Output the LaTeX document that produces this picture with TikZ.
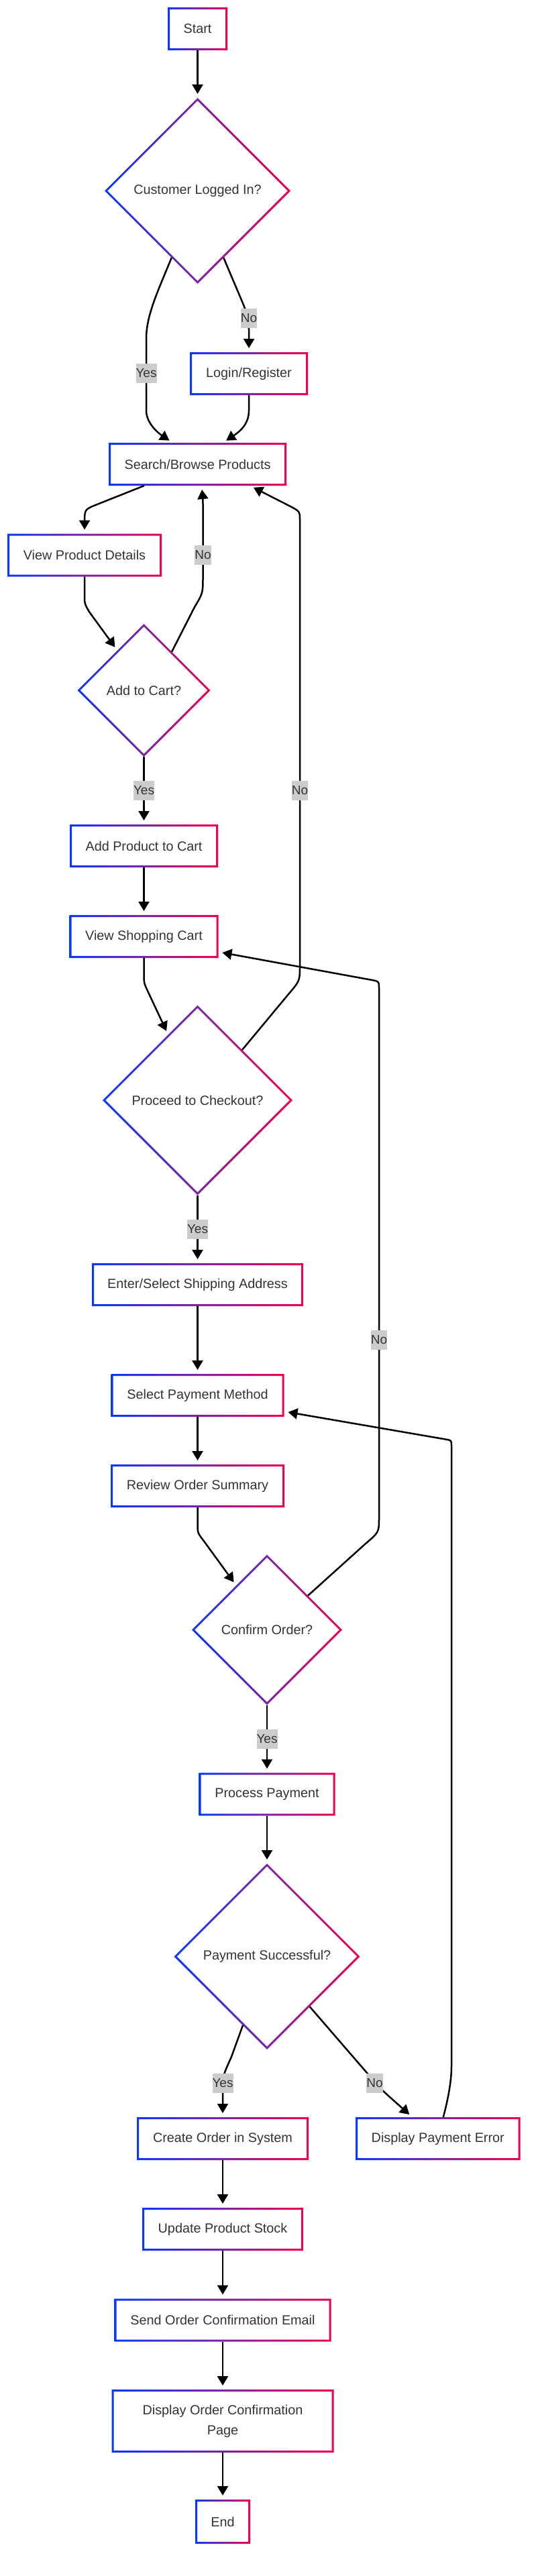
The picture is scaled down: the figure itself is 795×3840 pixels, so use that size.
\documentclass[tikz,border=0pt]{standalone}
\usepackage{fontspec}
\setmainfont{Liberation Sans}
\usetikzlibrary{arrows.meta,calc,shapes.geometric}
\definecolor{gblue}{RGB}{10,55,255}
\definecolor{gred}{RGB}{240,0,80}
\definecolor{gpurple}{RGB}{125,35,165}
\definecolor{txt}{RGB}{51,51,51}
\definecolor{lblbg}{RGB}{204,204,204}
\newcommand\gbox[1]{\shade[even odd rule, left color=gblue, right color=gred, middle color=gpurple]
  (#1.south west) rectangle (#1.north east)
  ($(#1.south west)+(3,-3)$) rectangle ($(#1.north east)+(-3,3)$);}
\newcommand\gdia[1]{\shade[even odd rule, left color=gblue, right color=gred, middle color=gpurple]
  (#1.north) -- (#1.east) -- (#1.south) -- (#1.west) -- cycle
  ($(#1.north)+(0,4.2)$) -- ($(#1.east)+(-4.2,0)$) -- ($(#1.south)+(0,-4.2)$) -- ($(#1.west)+(4.2,0)$) -- cycle;}
\tikzset{
  box/.style={rectangle, inner sep=0pt, outer sep=0pt, minimum height=64pt, text=txt, font=\fontsize{19.8}{30}\selectfont},
  dec/.style={diamond, aspect=1, inner sep=0pt, outer sep=0pt, text=txt, font=\fontsize{19.8}{24}\selectfont},
  lbl/.style={fill=lblbg, inner xsep=0pt, inner ysep=0pt, minimum height=29pt, text=txt, font=\fontsize{19}{23}\selectfont},
  arr/.style={draw=black, line width=2.5pt, line join=round, -{Triangle[length=14pt,width=16pt]}, shorten >=6pt}
}
\begin{document}
\begin{tikzpicture}[x=1pt,y=-1pt]
\useasboundingbox (0,0) rectangle (795,3840);
\fill[white] (0,0) rectangle (795,3840);

% nodes
\node[box, minimum width=89pt] (start) at (294.5,43) {Start};
\node[dec, minimum width=277pt, minimum height=277pt] (logged) at (294.5,284.5) {Customer Logged In?};
\node[box, minimum width=176pt] (login) at (371,557) {Login/Register};
\node[box, minimum width=265pt] (search) at (294.5,692) {Search/Browse Products};
\node[box, minimum width=230pt] (details) at (126,827.5) {View Product Details};
\node[dec, minimum width=198pt, minimum height=198pt] (addcart) at (214.5,1029) {Add to Cart?};
\node[box, minimum width=221pt] (addprod) at (214.5,1261) {Add Product to Cart};
\node[box, minimum width=222pt] (viewcart) at (214.5,1396) {View Shopping Cart};
\node[dec, minimum width=283pt, minimum height=283pt] (proceed) at (294.5,1640) {Proceed to Checkout?};
\node[box, minimum width=315pt] (shipping) at (294.5,1915) {Enter/Select Shipping Address};
\node[box, minimum width=258pt] (paymethod) at (294.5,2080) {Select Payment Method};
\node[box, minimum width=259pt] (review) at (294.5,2215) {Review Order Summary};
\node[dec, minimum width=224pt, minimum height=224pt] (confirm) at (398,2429.5) {Confirm Order?};
\node[box, minimum width=203pt] (process) at (398,2674.5) {Process Payment};
\node[dec, minimum width=277pt, minimum height=277pt] (paysucc) at (398,2916.5) {Payment Successful?};
\node[box, minimum width=256pt] (create) at (332,3188) {Create Order in System};
\node[box, minimum width=245.5pt] (payerr) at (652.75,3188) {Display Payment Error};
\node[box, minimum width=240pt] (stock) at (332,3323) {Update Product Stock};
\node[box, minimum width=323pt] (email) at (332,3458.5) {Send Order Confirmation Email};
\node[box, minimum width=331pt, minimum height=94pt, align=center] (page) at (332,3609) {Display Order Confirmation\\Page};
\node[box, minimum width=82pt, minimum height=66pt] (end) at (332,3759) {End};

% borders
\gbox{start}\gdia{logged}\gbox{login}\gbox{search}\gbox{details}\gdia{addcart}
\gbox{addprod}\gbox{viewcart}\gdia{proceed}\gbox{shipping}\gbox{paymethod}\gbox{review}
\gdia{confirm}\gbox{process}\gdia{paysucc}\gbox{create}\gbox{payerr}\gbox{stock}
\gbox{email}\gbox{page}\gbox{end}

% connectors
\draw[arr] (start.south) -- (logged.north);
\draw[arr] ($(logged.south)!0.28!(logged.west)$) .. controls (235,435) and (218,470) .. (218,505) -- (218,612) .. controls (218,632) and (238,647) .. ($(search.north)+(-37,0)$);
\draw[arr] ($(logged.south)!0.28!(logged.east)$) -- (362,452) .. controls (371,475) .. (371,495) -- (login.north);
\draw[arr] (login.south) -- (371,612) .. controls (371,632) and (358,643) .. ($(search.north)+(37.5,0)$);
\draw[arr] ($(search.south)+(-79.5,0)$) -- (137,755) .. controls (127,760) .. (126,772) -- (details.north);
\draw[arr] (details.south) -- (126,887) .. controls (126,900) .. (133,912) -- ($(addcart.west)!0.6!(addcart.north)$);
\draw[arr] ($(addcart.north)!0.42!(addcart.east)$) -- (290,905) .. controls (302.5,884) .. (302.5,860) -- (302.5,760) .. controls (302.5,745) .. ($(search.south)+(6,0)$);
\draw[arr] (addcart.south) -- (addprod.north);
\draw[arr] (addprod.south) -- (viewcart.north);
\draw[arr] (viewcart.south) -- (214.5,1452) .. controls (214.5,1465) .. (220,1477) -- ($(proceed.west)!0.69!(proceed.north)$);
\draw[arr] ($(proceed.north)!0.47!(proceed.east)$) -- (430,1482) .. controls (447,1462) .. (447,1440) -- (447,775) .. controls (447,763) .. (437,757) -- ($(search.south)+(78,0)$);
\draw[arr] (proceed.south) -- (shipping.north);
\draw[arr] (shipping.south) -- (paymethod.north);
\draw[arr] (paymethod.south) -- (review.north);
\draw[arr] (review.south) -- (294.5,2270) .. controls (294.5,2285) .. (303,2296) -- ($(confirm.west)!0.59!(confirm.north)$);
\draw[arr] ($(confirm.north)!0.545!(confirm.east)$) -- (545,2301) .. controls (565,2284) .. (565,2262) -- (565,1473) .. controls (565,1463) .. (555,1461) -- ($(viewcart.south east)+(0,-9)$);
\draw[arr] (confirm.south) -- (process.north);
\draw[arr] (process.south) -- (paysucc.north);
\draw[arr] ($(paysucc.south)!0.26!(paysucc.west)$) -- (345,3066) .. controls (332,3095) .. (332,3112) -- (create.north);
\draw[arr] ($(paysucc.south)!0.46!(paysucc.east)$) -- (547,3090) .. controls (563,3110) .. ($(payerr.north)+(-38,0)$);
\draw[arr] ($(payerr.north)+(8,0)$) .. controls (669,3125) and (673,3100) .. (673,3080) -- (673,2156) .. controls (673,2147) .. (664,2145.5) -- ($(paymethod.south east)+(0,-8)$);
\draw[arr] (create.south) -- (stock.north);
\draw[arr] (stock.south) -- (email.north);
\draw[arr] (email.south) -- (page.north);
\draw[arr] (page.south) -- (end.north);

% labels
\node[lbl] (l1) at (218,556) {Yes};
\node[lbl] (l2) at (371,474) {No};
\node[lbl] (l3) at (302.5,827) {No};
\node[lbl] (l4) at (447,1178) {No};
\node[lbl] (l5) at (214.5,1178) {Yes};
\node[lbl] (l6) at (294.5,1832) {Yes};
\node[lbl] (l7) at (565,1997) {No};
\node[lbl] (l8) at (398,2592) {Yes};
\node[lbl] (l9) at (332,3105) {Yes};
\node[lbl] (l10) at (558.5,3105) {No};
\end{tikzpicture}
\end{document}
